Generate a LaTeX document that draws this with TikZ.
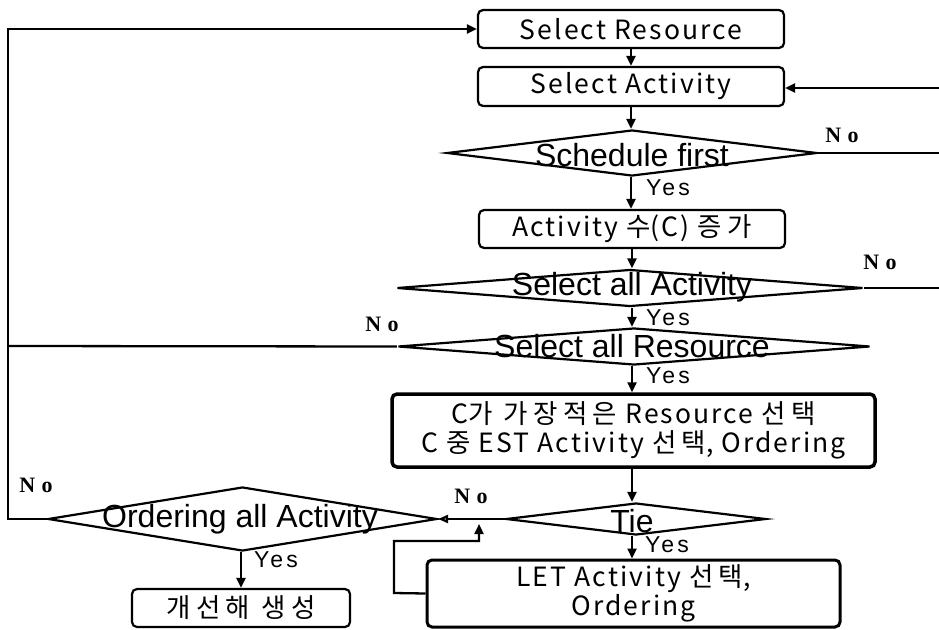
\documentclass[tikz,border=0pt]{standalone}
\usepackage{fontspec}
\setmainfont{Liberation Sans}
\newfontfamily\krf[LetterSpace=8]{Noto Sans CJK KR}
\newfontfamily\krw[LetterSpace=20]{Noto Sans CJK KR}
\newfontfamily\yesf[LetterSpace=14]{Liberation Sans}
\newfontfamily\nof[LetterSpace=30]{Liberation Serif}
\usetikzlibrary{shapes.geometric,arrows.meta}
\begin{document}
\begin{tikzpicture}[x=1pt,y=-1pt,
  box/.style={draw,rounded corners=5pt,line width=2.2pt,inner sep=0pt,align=center,font=\krf\fontsize{26.5}{29}\selectfont},
  dia/.style={draw,diamond,line width=2.2pt,inner sep=0pt},
  dtext/.style={font=\fontsize{32}{32}\selectfont,inner sep=0pt},
  conn/.style={line width=2.3pt},
  arr/.style={conn,-{Triangle[length=10pt,width=9pt]}},
  yes/.style={font=\yesf\fontsize{23}{23}\selectfont,inner sep=0pt},
  no/.style={font=\nof\bfseries\fontsize{22}{22}\selectfont,inner sep=0pt}]
\useasboundingbox (0,0) rectangle (939,629);

% boxes
\node[box,minimum width=306pt,minimum height=38pt] (sr) at (631,29) {Select Resource};
\node[box,minimum width=306pt,minimum height=39pt] (sa) at (631,86.5) {Select Activity};
\node[box,minimum width=306pt,minimum height=38pt] (ac) at (632,229) {Activity {\krw 수}(C) {\krw 증가}};
\node[box,line width=3.5pt,minimum width=483pt,minimum height=73pt] (big) at (633.5,430.5) {C{\krw 가 가장적은} Resource {\krw 선택}\\C {\krw 중} EST Activity {\krw 선택}, Ordering};
\node[box,line width=3pt,minimum width=413pt,minimum height=67pt] (let) at (633.5,593.5) {LET Activity {\krw 선택},\\Ordering};
\node[box,minimum width=218pt,minimum height=38pt,font=\krw\fontsize{26.5}{29}\selectfont] (gs) at (241,608) {개선해 생성};

% diamonds
\node[dia,minimum width=370pt,minimum height=46pt] (sf) at (632,153) {};
\node[dtext] (sft) at (632,155) {Schedule first};
\node[dia,minimum width=466pt,minimum height=37pt] (saa) at (630,288) {};
\node[dtext] (saat) at (632,287) {Select all Activity};
\node[dia,minimum width=472pt,minimum height=37pt] (sar) at (634,346.5) {};
\node[dtext] (sart) at (632,346) {Select all Resource};
\node[dia,minimum width=260pt,minimum height=32pt] (tie) at (636,519) {};
\node[dtext] (tiet) at (632,521) {Tie};
\node[dia,minimum width=389pt,minimum height=64pt] (oaa) at (242.5,519) {};
\node[dtext] (oaat) at (240,519) {Ordering all Activity};

% vertical flow
\draw[arr] (sr.south) -- (sa.north);
\draw[arr] (sa.south) -- (sf.north -| sa.south);
\draw[arr] (sf.south -| sa.south) -- (ac.north -| sa.south);
\draw[arr] (ac.south) -- (saa.north -| ac.south);
\draw[arr] (saa.south -| ac.south) -- (sar.north -| ac.south);
\draw[arr] (sar.south -| ac.south) -- (big.north -| ac.south);
\draw[arr] (big.south -| ac.south) -- (tie.north -| ac.south);
\draw[arr] (tie.south -| ac.south) -- (let.north -| ac.south);
\draw[arr] (oaa.south -| gs.north) -- (gs.north);

% right side returns
\coordinate (r1) at (939,153);
\coordinate (r2) at (939,288);
\coordinate (r3) at (939,88);
\draw[conn] (sf.east) -- (r1);
\draw[conn] (saa.east) -- (r2);
\draw[arr] (r3) -- (sa.east |- r3);

% left side return
\coordinate (l1) at (8,519);
\coordinate (l2) at (8,29);
\coordinate (l3) at (8,346);
\draw[arr] (oaa.west) -- (l1) -- (l2) -- (sr.west);
\draw[conn] (sar.west) -- (l3);

% tie no
\draw[conn,-{Triangle[open,length=10pt,width=8pt]}] (tie.west) -- (oaa.east);

% LET loop
\coordinate (p1) at (394,593);
\coordinate (p2) at (394,541);
\coordinate (p3) at (479,541);
\coordinate (p4) at (479,524);
\draw[arr] (let.west) -- (p1) -- (p2) -- (p3) -- (p4);

% labels
\node[no] (n1) at (842,135) {No};
\node[no] (n2) at (880,262) {No};
\node[no] (n3) at (382,324) {No};
\node[no] (n4) at (36,485) {No};
\node[no] (n5) at (471,496) {No};
\node[yes] (y1) at (668,188) {Yes};
\node[yes] (y2) at (668,318) {Yes};
\node[yes] (y3) at (668,376) {Yes};
\node[yes] (y4) at (667,545) {Yes};
\node[yes] (y5) at (276,560) {Yes};
\end{tikzpicture}
\end{document}
